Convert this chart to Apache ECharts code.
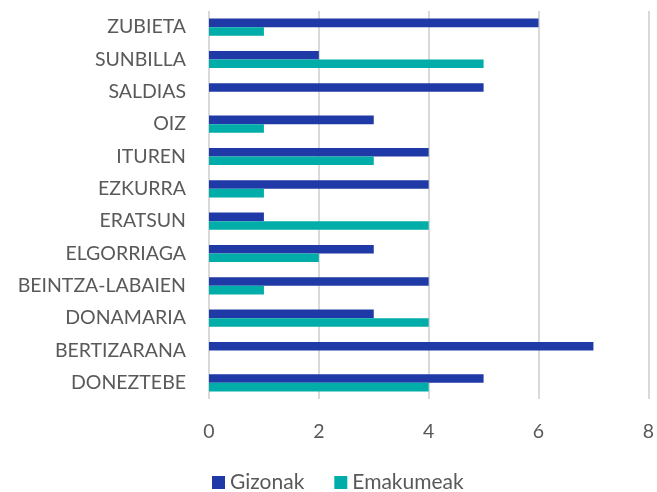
<!DOCTYPE html>
<html>
<head>
<meta charset="utf-8">
<script src="https://cdn.jsdelivr.net/npm/echarts@6/dist/echarts.min.js"></script>
<style>
  html, body { margin: 0; padding: 0; background: #fff; }
  #chart { width: 657px; height: 492px; }
</style>
</head>
<body>
<div id="chart"></div>
<script>
// herriak, behetik gora (axis category order)
let herriak = ['DONEZTEBE', 'BERTIZARANA', 'DONAMARIA', 'BEINTZA-LABAIEN', 'ELGORRIAGA', 'ERATSUN',
  'EZKURRA', 'ITUREN', 'OIZ', 'SALDIAS', 'SUNBILLA', 'ZUBIETA']
let gizonak = [5, 7, 3, 4, 3, 1, 4, 4, 3, 5, 2, 6]
let emakumeak = [4, 0, 4, 1, 2, 4, 1, 3, 1, 0, 5, 1]
let xTicks = [0, 2, 4, 6, 8]

let textColor = '#595959'
let fontFamily = 'Lato, "Open Sans", sans-serif'

let chart = echarts.init(document.getElementById('chart'))
let option = {
  animation: false,
  textStyle: { fontFamily: fontFamily },
  grid: {
    left: 209,
    right: 5,
    top: 11,
    bottom: 93
  },
  legend: {
    data: ['Gizonak', 'Emakumeak'],
    top: 472,
    left: 212,
    padding: 0,
    itemWidth: 13,
    itemHeight: 13,
    itemGap: 30,
    icon: 'rect',
    textStyle: { color: textColor, fontSize: 21, fontFamily: fontFamily }
  },
  xAxis: {
    type: 'value',
    min: xTicks[0],
    max: xTicks[xTicks.length - 1],
    interval: 2,
    axisLine: { show: false },
    axisTick: { show: false },
    splitLine: { show: true, lineStyle: { color: '#D9D9D9', width: 2 } },
    axisLabel: { color: textColor, fontSize: 19.5, margin: 23 }
  },
  yAxis: {
    type: 'category',
    data: herriak,
    axisLine: { show: false },
    axisTick: { show: false },
    axisLabel: { color: textColor, fontSize: 19.5, margin: 23 }
  },
  series: [
    {
      name: 'Gizonak',
      type: 'bar',
      data: gizonak,
      barGap: '0%',
      barCategoryGap: '47%',
      itemStyle: { color: '#1F3AA6' }
    },
    {
      name: 'Emakumeak',
      type: 'bar',
      data: emakumeak,
      barGap: '0%',
      barCategoryGap: '47%',
      itemStyle: { color: '#00ADA8' }
    }
  ]
}
chart.setOption(option)
</script>
</body>
</html>
